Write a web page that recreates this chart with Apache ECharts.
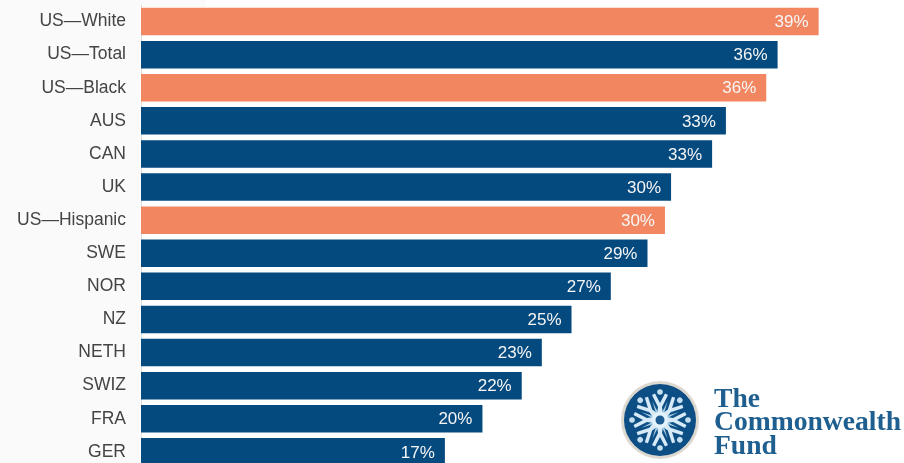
<!DOCTYPE html>
<html>
<head>
<meta charset="utf-8">
<style>html,body{margin:0;padding:0;background:#fff;height:463px;overflow:hidden}#chart{width:904px;height:480px}</style>
<script src="https://cdn.jsdelivr.net/npm/echarts@6/dist/echarts.min.js"></script>
</head>
<body>
<div id="chart"></div>
<script>
// Share of adults, percent, highest first
const categories = ['US—White','US—Total','US—Black','AUS','CAN','UK','US—Hispanic','SWE','NOR','NZ','NETH','SWIZ','FRA','GER'];
const values = [38.8,36.45,35.8,33.49,32.7,30.35,30.0,29.0,26.9,24.65,22.95,21.8,19.55,17.4];
const usGroups = ['US—White','US—Black','US—Hispanic'];

const BLUE = '#054a7f', ORANGE = '#f28660';

// Emblem: eight figures radiating from a central disc
const emblem = [];
const ecx = 660, ecy = 420;
emblem.push({type:'circle',shape:{cx:ecx,cy:ecy,r:39},style:{fill:'#ddd8d0'}});
emblem.push({type:'circle',shape:{cx:ecx,cy:ecy,r:36},style:{fill:'#0d4f85'}});
for (let i = 0; i < 8; i++) {
  const rot = -i * Math.PI / 4;
  const place = {x:ecx,y:ecy,rotation:rot,originX:0,originY:0};
  emblem.push(Object.assign({type:'polygon',shape:{points:[[-3.2,-5],[-2,-13],[-8,-25],[-5,-26.5],[0,-17],[5,-26.5],[8,-25],[2,-13],[3.2,-5],[0,-3]]},style:{fill:'#d6eaf7'}},place));
  emblem.push(Object.assign({type:'circle',shape:{cx:0,cy:-28,r:2.8},style:{fill:'#c5dff0'}},place));
  emblem.push(Object.assign({type:'polygon',shape:{points:[[-1.2,-6],[0,-20],[1.2,-6]]},style:{fill:'#a9d2ec'}},{x:ecx,y:ecy,originX:0,originY:0,rotation:rot-Math.PI/8}));
}
emblem.push({type:'circle',shape:{cx:ecx,cy:ecy,r:8},style:{fill:'#e4f2fb'}});
emblem.push({type:'circle',shape:{cx:ecx,cy:ecy,r:4.5},style:{fill:'#1d5c90'}});

const wordmark = [['The',414],['Commonwealth',437],['Fund',461]].map(([t,y]) => ({
  type:'text',x:714,y:y,
  style:{text:t,fill:'#1f5f90',font:'bold 27.6px "Liberation Serif"',textVerticalAlign:'bottom'}
}));

const chart = echarts.init(document.getElementById('chart'),null,{renderer:'canvas'});
chart.setOption({
  animation:false,
  backgroundColor:'#ffffff',
  grid:{left:141,top:5,width:751,height:463.4},
  xAxis:{type:'value',min:0,max:43,show:false},
  yAxis:{
    type:'category',inverse:true,data:categories,
    axisLine:{show:true,lineStyle:{color:'#dddddd',width:1}},
    axisTick:{show:false},
    axisLabel:{margin:15,padding:[3,0,0,0],fontFamily:'"Liberation Sans"',fontSize:17.5,color:'#444444'}
  },
  series:[{
    type:'bar',
    barWidth:27.5,
    data:values.map((v,i)=>({value:v,itemStyle:{color:usGroups.includes(categories[i])?ORANGE:BLUE}})),
    label:{
      show:true,position:'insideRight',distance:10,offset:[0,1],
      fontFamily:'"Liberation Sans"',fontSize:17,color:'#f6f6f6',
      formatter:p=>Math.round(p.value)+'%'
    }
  }],
  graphic:[
    {type:'rect',z:-10,shape:{x:0,y:0,width:140,height:480},style:{fill:'#fafafa'}},
    {type:'rect',z:-10,shape:{x:140,y:0,width:66,height:7},style:{fill:'#fafafa'}},
    ...emblem.map(e=>Object.assign(e,{z:20})),
    ...wordmark.map(e=>Object.assign(e,{z:20}))
  ]
});
</script>
</body>
</html>
